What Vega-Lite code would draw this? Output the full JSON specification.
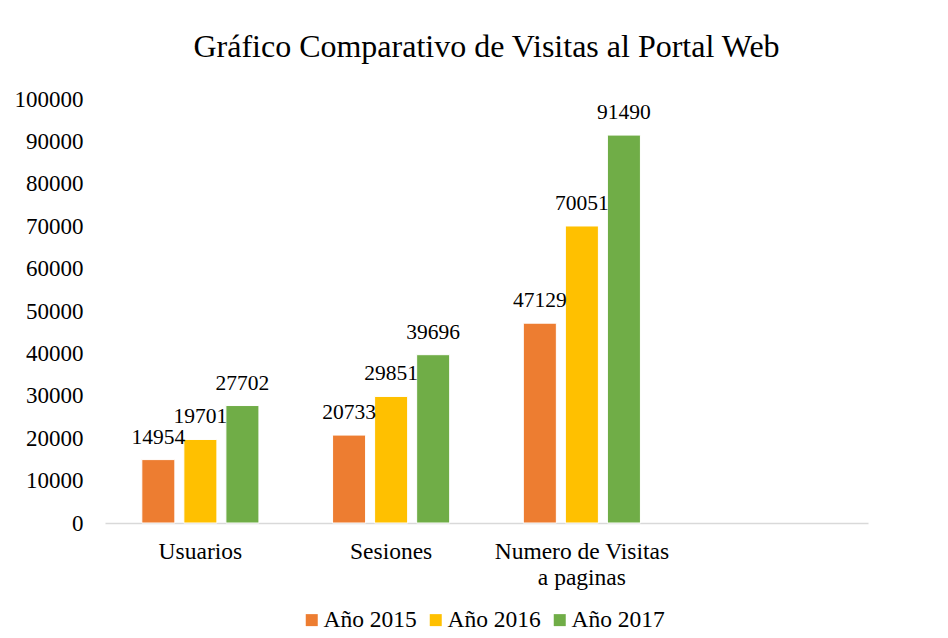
{
  "$schema": "https://vega.github.io/schema/vega-lite/v6.json",
  "width": 763,
  "height": 424,
  "autosize": {"type": "none"},
  "padding": {"left": 105, "top": 99, "right": 80, "bottom": 115},
  "background": "white",
  "config": {
    "view": {"stroke": null},
    "font": "Liberation Serif"
  },
  "title": {
    "text": "Gráfico Comparativo de Visitas al Portal Web",
    "font": "Liberation Serif",
    "fontSize": 32,
    "fontWeight": "normal",
    "color": "#000000",
    "anchor": "middle",
    "offset": 24
  },
  "data": {
    "values": [
      {"categoria": "Usuarios", "anio": "Año 2015", "valor": 14954},
      {"categoria": "Usuarios", "anio": "Año 2016", "valor": 19701},
      {"categoria": "Usuarios", "anio": "Año 2017", "valor": 27702},
      {"categoria": "Sesiones", "anio": "Año 2015", "valor": 20733},
      {"categoria": "Sesiones", "anio": "Año 2016", "valor": 29851},
      {"categoria": "Sesiones", "anio": "Año 2017", "valor": 39696},
      {"categoria": "Numero de Visitas a paginas", "anio": "Año 2015", "valor": 47129},
      {"categoria": "Numero de Visitas a paginas", "anio": "Año 2016", "valor": 70051},
      {"categoria": "Numero de Visitas a paginas", "anio": "Año 2017", "valor": 91490}
    ]
  },
  "encoding": {
    "x": {
      "field": "categoria",
      "type": "nominal",
      "sort": null,
      "scale": {
        "domain": ["Usuarios", "Sesiones", "Numero de Visitas a paginas", " "],
        "paddingInner": 0.386,
        "paddingOuter": 0.193
      },
      "axis": {
        "title": null,
        "labelAngle": 0,
        "labelFont": "Liberation Serif",
        "labelFontSize": 23.5,
        "labelColor": "#000000",
        "labelPadding": 16,
        "labelLineHeight": 26,
        "labelExpr": "datum.label == 'Numero de Visitas a paginas' ? ['Numero de Visitas', 'a paginas'] : datum.label",
        "ticks": false,
        "domainColor": "#d9d9d9",
        "domainWidth": 1.5,
        "grid": false
      }
    },
    "xOffset": {
      "field": "anio",
      "type": "nominal",
      "scale": {"paddingInner": 0.214, "paddingOuter": 0}
    },
    "y": {
      "field": "valor",
      "type": "quantitative",
      "scale": {"domain": [0, 100000]},
      "axis": {
        "title": null,
        "values": [0, 10000, 20000, 30000, 40000, 50000, 60000, 70000, 80000, 90000, 100000],
        "format": "d",
        "labelFont": "Liberation Serif",
        "labelFontSize": 23,
        "labelColor": "#000000",
        "labelPadding": 22,
        "ticks": false,
        "domain": false,
        "grid": false
      }
    }
  },
  "layer": [
    {
      "mark": {"type": "bar", "stroke": "white", "strokeWidth": 1},
      "encoding": {
        "color": {
          "field": "anio",
          "type": "nominal",
          "scale": {
            "domain": ["Año 2015", "Año 2016", "Año 2017"],
            "range": ["#ED7D31", "#FFC000", "#70AD47"]
          },
          "legend": {
            "title": null,
            "orient": "none",
            "legendX": 195,
            "legendY": 509,
            "direction": "horizontal",
            "symbolType": "square",
            "symbolSize": 144,
            "symbolStrokeWidth": 0,
            "labelFont": "Liberation Serif",
            "labelFontSize": 23.5,
            "labelColor": "#000000",
            "labelOffset": 0,
            "columnPadding": 7
          }
        }
      }
    },
    {
      "mark": {
        "type": "text",
        "baseline": "alphabetic",
        "dy": -16,
        "font": "Liberation Serif",
        "fontSize": 21.5,
        "color": "#000000"
      },
      "encoding": {
        "text": {"field": "valor", "type": "quantitative", "format": "d"}
      }
    }
  ]
}
